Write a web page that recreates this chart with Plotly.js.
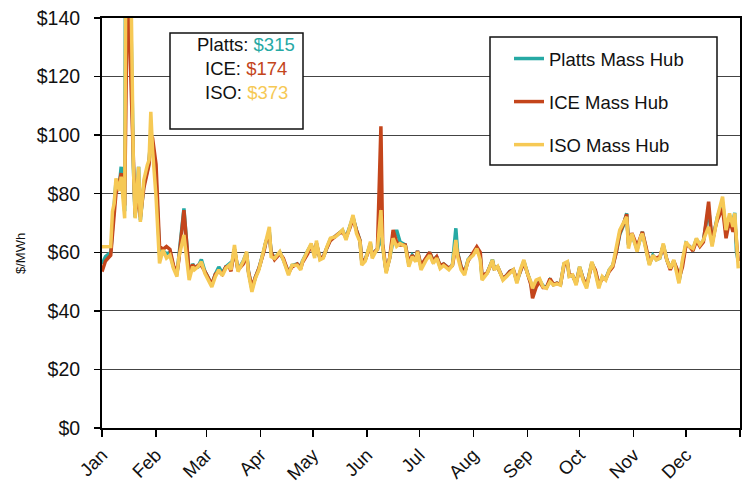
<!DOCTYPE html>
<html>
<head>
<meta charset="utf-8">
<script src="https://cdn.plot.ly/plotly-3.0.1.min.js"></script>
<style>
  html, body { margin: 0; padding: 0; background: #fff; }
  #chart { width: 744px; height: 483px; }
</style>
</head>
<body>
<div id="chart"></div>
<script>
// Day of year (2004, day 0 = Jan 1) for each observation
var days = [
  0,2,5,6,7,8,10,11,13,14,
  15,16,18,19,21,22,24,26,27,28,
  29,31,33,35,37,39,41,43,44,47,
  49,50,52,53,55,57,59,61,63,65,
  67,69,71,73,74,76,78,81,83,84,
  86,88,90,93,94,96,97,99,102,104,
  107,109,112,114,115,118,120,122,123,125,
  127,129,131,134,136,138,140,142,144,146,
  148,149,151,154,155,157,158,160,161,163,
  165,167,169,171,174,176,178,180,181,183,
  186,188,190,192,194,196,199,201,203,204,
  206,208,210,213,215,217,218,221,224,225,
  227,230,232,234,236,238,240,242,244,246,
  247,249,251,253,255,257,259,261,263,265,
  267,268,270,272,274,276,278,281,283,285,
  287,289,291,293,295,297,299,301,302,304,
  307,309,310,312,314,316,318,320,322,324,
  326,328,330,331,333,335,337,339,341,343,
  345,348,350,352,353,356,358,360,362,363,
  364,365
];

var plattsMassHub = [
  56,58.5,60,70,76,84,83,89.2,74,250,
  315,160,89.2,72,89.2,71,83,88,91,100,
  97,85,60,60.5,59.5,60,55,52.5,57.5,75,
  60,52,56,55,55,57.5,53.5,51,49,52.5,
  55,53,55,56,54.5,61,54,57,60,53.5,
  47.5,51.5,54.5,61,63.5,67,60,58,60,57.5,
  53,55.5,56,55,57,60.5,62.5,59,63,58,
  58.5,61.5,64.5,65.5,66.5,67.5,65,68.5,72,67.5,
  64,57,57.5,63,59,60.5,61,65,62,53.5,
  58,64,67.6,63.5,62.5,56,59,57.5,60.5,55,
  58,60,57,58.5,55,56,54.5,55.5,68.2,60,
  55,53,57.5,59.5,61,58.5,51.5,53,57.5,54.5,
  55,51,52,53.5,54,50,54,57,53,49.5,
  46,49,50.5,48.5,48,50.5,49,49.5,49,56,
  56.5,52,52,49.5,55,51,48.5,56.5,53.5,48.5,
  51.5,51,54,55.5,60,66,69,73.3,62.5,66,
  61,65.5,67,61.5,56,59,57.5,58,62.5,57.5,
  54.5,57,53.5,50,56,63,62,61,64.5,62.5,
  64,75,63.5,69.5,72,77,67,72,70.5,73.5,
  60,57
];

var iceMassHub = [
  53.4,57,59,66,72,80,84,87,76,150,
  174,130,87,73,80,72,82,87,90,100,
  99,90,62,61,62,61,55.5,53,57,74.4,
  60,53,55.8,54.5,55.5,55.5,53.5,51,49,52.5,
  53.5,52.5,55,55,53.5,61,54,56,59,53.5,
  48,51.5,54.5,60.5,63.5,66,60,57.5,59.5,58,
  53,55,56,54.5,56.5,59.5,62.5,59,63,58,
  58.5,61.5,64,65.5,66.5,67,65,68,71.5,67.5,
  64,57,57.5,62,59,60.5,61,103,63,53.5,
  58,67.6,63.5,62.5,62.5,56.5,59,57,60.5,55.5,
  58,60,57,58.5,55.5,56,54.5,55.5,62,59.5,
  55,53,57,60,61.9,60,52,53,57,54.5,
  55,51,52,53.5,54,50.5,53.5,56.5,53,49,
  44.3,48,50,48,48,51,49,49.5,49,55.5,
  56.5,52.5,52,49.5,54.5,51,48.5,56,54,49,
  51,51,53.5,55,60,66.5,69.5,73,63,66.5,
  62,65.5,67,62,56.5,58.5,58,58.5,62,57.5,
  54,57,54,51,55,62.5,62,60.5,64,62,
  63.5,77.3,63,69,71,75,64.8,71,67,70,
  62,57
];

var isoMassHub = [
  61.9,61.9,62.0,73.9,76.7,85.2,81,85.8,71.6,200,
  373,180,89.2,71.6,89.2,70.4,84.7,89.8,91.5,108,
  95,79,56.2,60.8,58,59,54.5,51.7,58,65.9,
  57,50.5,55.1,54,55,56.8,52.8,50.5,48.2,51.7,
  54,52,54.5,55.6,54,62.5,53.4,56.8,60.2,52.8,
  46.5,51.1,54,61.3,64.2,68.7,58.5,57.9,60.2,57.4,
  52.2,55.6,55.6,54,56.8,60.2,63,58,64,57.4,
  58,61.9,64.8,65.3,66.4,67.6,64.2,68.7,72.7,66.4,
  63.6,55.6,57,63.6,57.9,60.2,61,74.4,61.9,52.8,
  57.9,64.8,62,63,62,55.1,58.5,56.8,60.2,54,
  57.4,59,56.2,58,54.5,55.5,54,55.5,64.2,58.5,
  54,52.2,57.4,59,61.3,57.4,50.5,52.8,57.4,54,
  55.2,50.5,51.7,53,54,49.4,54,57.4,52.8,50,
  47.7,50.5,51,48.2,47.7,50,48.8,49.2,48.8,56.2,
  56.8,51.7,52.2,48.8,55.1,50.5,47.7,56.8,53,47.7,
  51.7,50.5,54,55.6,61.9,67.6,69.9,72.1,61.3,66.4,
  60.2,65.3,66.4,60.8,55.6,59,57.4,58,63,57.4,
  54.5,57.4,52.8,49.4,57.4,63.6,61.9,61.3,64.8,62.5,
  64.2,68.7,62,68.7,72.1,79,67.6,73.3,68.7,73.3,
  63,54.5
];

var seriesNames = ['Platts Mass Hub', 'ICE Mass Hub', 'ISO Mass Hub'];
var peakLabels = ['Platts: ', 'ICE: ', 'ISO: '];
var peakValues = ['$315', '$174', '$373'];
var monthTicks = ['2004-01-01','2004-02-01','2004-03-01','2004-04-01','2004-05-01','2004-06-01',
                  '2004-07-01','2004-08-01','2004-09-01','2004-10-01','2004-11-01','2004-12-01','2005-01-01'];
var monthLabels = ['Jan','Feb','Mar','Apr','May','Jun','Jul','Aug','Sep','Oct','Nov','Dec',''];
var yTicks = [0,20,40,60,80,100,120,140];
var yLabels = ['$0','$20','$40','$60','$80','$100','$120','$140'];

var colors = ['#26a9a4', '#c4451b', '#f6c955'];
var FONT = 'Liberation Sans, Arial, Helvetica, sans-serif';

var dates = days.map(function (d) {
  return new Date(Date.UTC(2004, 0, 1 + d)).toISOString().slice(0, 10);
});

var W = 744, H = 483, L = 102, R = 4, T = 18, B = 55;
var PW = W - L - R, PH = H - T - B;
function px(x) { return (x - L) / PW; }
function py(y) { return (H - B - y) / PH; }

var valuesList = [plattsMassHub, iceMassHub, isoMassHub];
var traces = valuesList.map(function (vals, i) {
  return {
    type: 'scatter', mode: 'lines',
    x: dates, y: vals, name: seriesNames[i],
    line: { color: colors[i], width: 3.5 },
    legendgroup: 'g' + i,
    hoverinfo: 'skip'
  };
});

var annotations = peakLabels.map(function (lab, i) {
  return {
    xref: 'paper', yref: 'paper', x: px(246), y: py(45 + i * 23.5),
    xanchor: 'center', yanchor: 'middle', showarrow: false,
    text: lab + '<span style="color:' + colors[i] + '">' + peakValues[i] + '</span>',
    font: { family: FONT, size: 18.5, color: '#111' }
  };
});
annotations.push({
  xref: 'paper', yref: 'paper', x: px(20), y: py(254),
  xanchor: 'center', yanchor: 'middle', showarrow: false, textangle: -90,
  text: '$/MWh', font: { family: FONT, size: 13, color: '#111' }
});

var layout = {
  width: W, height: H,
  margin: { l: L, r: R, t: T, b: B },
  paper_bgcolor: '#fff', plot_bgcolor: '#fff',
  font: { family: FONT, color: '#111' },
  showlegend: true,
  legend: {
    x: px(509), y: py(40), xanchor: 'left', yanchor: 'top',
    bgcolor: 'rgba(0,0,0,0)', borderwidth: 0,
    font: { family: FONT, size: 18.5, color: '#111' },
    tracegroupgap: 16, itemwidth: 30
  },
  xaxis: {
    type: 'date', range: ['2004-01-01', '2005-01-01'],
    tickmode: 'array', tickvals: monthTicks, ticktext: monthLabels,
    tickangle: -45, ticks: 'outside', ticklen: 7, tickwidth: 1.5, tickcolor: '#000',
    showline: true, linecolor: '#000', linewidth: 2, mirror: true,
    showgrid: false, zeroline: false,
    tickfont: { family: FONT, size: 18.5, color: '#111' }
  },
  yaxis: {
    range: [0, 140], tickmode: 'array', tickvals: yTicks, ticktext: yLabels,
    ticks: 'outside', ticklen: 6, tickwidth: 1.5, tickcolor: '#000',
    ticklabelstandoff: 10,
    showline: true, linecolor: '#000', linewidth: 2, mirror: true,
    showgrid: true, gridcolor: '#444', gridwidth: 1, zeroline: false,
    tickfont: { family: FONT, size: 19.5, color: '#111' }
  },
  shapes: [
    { type: 'rect', xref: 'paper', yref: 'paper', x0: px(170), x1: px(303), y0: py(33), y1: py(129),
      fillcolor: '#fff', line: { color: '#111', width: 1.5 }, layer: 'above' },
    { type: 'rect', xref: 'paper', yref: 'paper', x0: px(490), x1: px(717), y0: py(37), y1: py(165),
      fillcolor: '#fff', line: { color: '#111', width: 1.5 }, layer: 'above' }
  ],
  annotations: annotations
};

Plotly.newPlot('chart', traces, layout, { displayModeBar: false, staticPlot: true });
</script>
</body>
</html>
